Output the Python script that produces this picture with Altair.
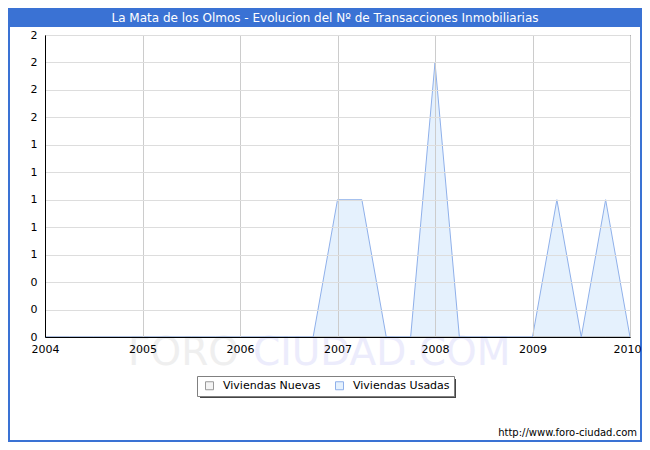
import altair as alt
import pandas as pd

FONT = "DejaVu Sans"

# Quarterly positions (decimal years)
quarters = [2004.0, 2004.25, 2004.5, 2004.75,
            2005.0, 2005.25, 2005.5, 2005.75,
            2006.0, 2006.25, 2006.5, 2006.75,
            2007.0, 2007.25, 2007.5, 2007.75,
            2008.0, 2008.25, 2008.5, 2008.75,
            2009.0, 2009.25, 2009.5, 2009.75,
            2010.0]
nuevas = [0, 0, 0, 0,
          0, 0, 0, 0,
          0, 0, 0, 0,
          0, 0, 0, 0,
          0, 0, 0, 0,
          0, 0, 0, 0,
          0]
usadas = [0, 0, 0, 0,
          0, 0, 0, 0,
          0, 0, 0, 0,
          1, 1, 0, 0,
          2, 0, 0, 0,
          0, 1, 0, 1,
          0]
series = ["Viviendas Nuevas", "Viviendas Usadas"]
x_ticks = [2004, 2005, 2006, 2007, 2008, 2009, 2010]
y_ticks = [0, 0.2, 0.4, 0.6, 0.8, 1.0, 1.2, 1.4, 1.6, 1.8, 2.0, 2.2]
title_text = "La Mata de los Olmos - Evolucion del Nº de Transacciones Inmobiliarias"
url_text = "http://www.foro-ciudad.com"

rows = []
for q, v in zip(quarters, nuevas):
    rows.append({"anio": q, "serie": series[0], "valor": v})
for q, v in zip(quarters, usadas):
    rows.append({"anio": q, "serie": series[1], "valor": v})
df = pd.DataFrame(rows)

W, H = 585, 302
PAD_L, PAD_T, PAD_R, PAD_B = 37, 27, 12, 105
BLUE = "#3a72d4"

legend = alt.Legend(
    orient="none", legendX=152, legendY=341, direction="horizontal", title=None,
    fillColor="white", strokeColor="#808080", padding=4,
    symbolType="square", symbolSize=64, symbolStrokeWidth=1,
    labelFont=FONT, labelFontSize=11, labelColor="black",
    columnPadding=10, labelOffset=8, symbolOffset=3,
)

xenc = alt.X("anio:Q", scale=alt.Scale(domain=[2004, 2010], nice=False, zero=False),
             axis=alt.Axis(values=x_ticks, format="d", title=None, ticks=False,
                           labelPadding=6, labelFont=FONT, labelFontSize=11,
                           labelColor="black", gridColor="#cccccc",
                           domainColor="black", labelFlush=False, zindex=1,
                           labelOffset={"condition": {"test": "datum.value == 2010", "value": -3},
                                        "value": 0}))
yenc = alt.Y("valor:Q", scale=alt.Scale(domain=[0, 2.2], nice=False),
             axis=alt.Axis(values=y_ticks, format=".0f", title=None, ticks=False,
                           labelPadding=8, labelFont=FONT, labelFontSize=11,
                           labelColor="black", gridColor="#dddddd",
                           domainColor="black", zindex=1))

base = alt.Chart(df)

area = base.mark_area(interpolate="linear").encode(
    x=xenc, y=yenc,
    fill=alt.Fill("serie:N", scale=alt.Scale(domain=series, range=["#f4f4f4", "#e5f1fd"]),
                  legend=legend),
)
line = base.mark_line(strokeWidth=1).encode(
    x=xenc, y=yenc,
    stroke=alt.Stroke("serie:N", scale=alt.Scale(domain=series, range=["#999999", "#8fb0ea"]),
                      legend=legend),
)


def one(text):
    return alt.Chart(pd.DataFrame({"t": [text]}))


frame = one("frame").mark_rect(filled=False, stroke=BLUE, strokeWidth=2).encode(
    x=alt.value(-PAD_L + 1), x2=alt.value(W + PAD_R - 1),
    y=alt.value(-PAD_T + 1), y2=alt.value(H + PAD_B - 1))
bar = one("bar").mark_rect(fill=BLUE).encode(
    x=alt.value(-PAD_L), x2=alt.value(W + PAD_R),
    y=alt.value(-PAD_T), y2=alt.value(-8))
title = one(title_text).mark_text(font=FONT, fontSize=12, color="white",
                                  align="center", baseline="middle").encode(
    text="t:N", x=alt.value(280), y=alt.value(-17.5))
wm1 = one("FORO").mark_text(font=FONT, fontSize=39, color="#efefef",
                            align="left", baseline="middle").encode(
    text="t:N", x=alt.value(83), y=alt.value(318))
wm2 = one("CIUDAD.COM").mark_text(font=FONT, fontSize=39, color="#ececfc",
                                  align="left", baseline="middle").encode(
    text="t:N", x=alt.value(208), y=alt.value(318))
url = one(url_text).mark_text(font=FONT, fontSize=10, color="black",
                              align="right", baseline="middle").encode(
    text="t:N", x=alt.value(592), y=alt.value(398))
shadow = one("shadow").mark_rect(fill="#444444").encode(
    x=alt.value(155), x2=alt.value(411), y=alt.value(344), y2=alt.value(363))

chart = alt.layer(frame, bar, title, wm1, wm2, area, line, url, shadow).properties(
    width=W, height=H,
    autosize=alt.AutoSizeParams(type="none"),
    padding={"left": PAD_L, "top": PAD_T, "right": PAD_R, "bottom": PAD_B},
    background="white",
).configure_view(stroke="black", strokeWidth=1)

chart.save("out.html", embed_options={"renderer": "svg", "actions": False})
